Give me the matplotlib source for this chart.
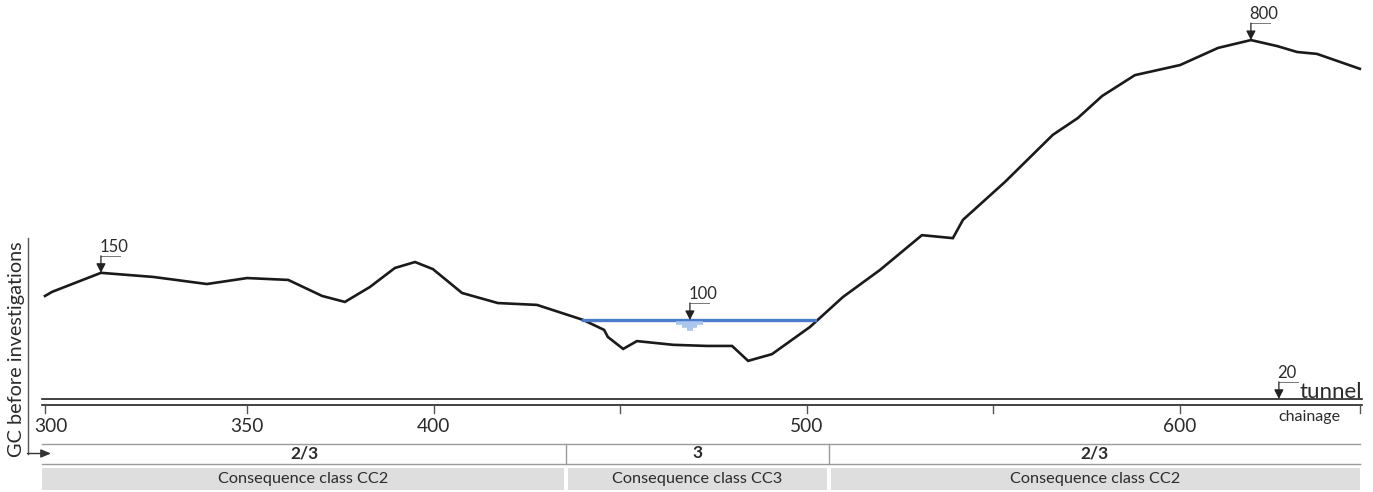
import matplotlib.pyplot as plt
from matplotlib.patches import Rectangle

plt.rcParams['font.family'] = ['Lato', 'DejaVu Sans']

# --- ground surface along the alignment (chainage [m], height above tunnel [m])
chainage = [295.8, 297.7, 310.8, 324.8, 339.2, 350.0, 361.0, 370.1, 376.2, 382.9,
            389.6, 395.0, 399.8, 407.6, 417.2, 427.7, 440.0, 445.7, 446.7, 450.8,
            454.5, 464.2, 473.3, 480.0, 484.3, 490.7, 500.9, 509.7, 519.7, 530.9,
            539.2, 541.9, 553.2, 566.0, 572.7, 579.2, 588.0, 600.1, 610.3, 619.1,
            626.1, 631.5, 636.8, 648.3]
elevation = [29.1, 30.2, 35.3, 34.2, 32.3, 33.9, 33.4, 29.1, 27.5, 31.5,
             36.6, 38.2, 36.3, 29.9, 27.2, 26.7, 22.7, 20.0, 18.1, 14.9,
             17.0, 16.0, 15.7, 15.7, 11.7, 13.5, 20.8, 28.8, 36.1, 45.4,
             44.6, 49.5, 59.7, 72.3, 76.8, 82.7, 88.3, 91.0, 95.6, 97.7,
             96.1, 94.5, 94.0, 90.0]

# --- water level in the valley
water_level = 22.65
water_from, water_to = 440.0, 502.2

# --- level markers
mark_chainage = [310.8, 468.7, 619.1, 626.6]
mark_elev = [35.3, 22.65, 97.7, 1.5]
mark_text = ["150", "100", "800", "20"]

# --- chainage axis
tick_pos = [295.8, 350, 400, 450, 500, 550, 600, 648.3]
tick_labels = ["300", "350", "400", "", "500", "", "600", ""]

# --- geotechnical category / consequence class sections
section_bounds = [295.0, 435.5, 506.0, 648.3]
gc_labels = ["2/3", "3", "2/3"]
cc_labels = ["Consequence class CC2", "Consequence class CC3", "Consequence class CC2"]

SCALE = 3.73       # px per m
Y0 = 404.5         # pixel row of tunnel line


def ey(py):
    """pixel row -> elevation units (layout helper for the bottom bands)"""
    return (Y0 - py) / SCALE


def cx(px):
    return 295.8 + (px - 45) / SCALE


fig = plt.figure(figsize=(13.73, 4.92), dpi=100)
ax = fig.add_axes([0, 0, 1, 1])
ax.set_xlim(cx(0), cx(1373))
ax.set_ylim(ey(492), ey(0))
ax.axis("off")

TXT = "#2b2b2b"
GRID = "#9a9a9a"

# ground line
ax.plot(chainage, elevation, color="#1a1a1a", lw=1.9, solid_joinstyle="miter")

# water
ax.plot([water_from, water_to], [water_level] * 2, color="#4a7cc9", lw=2.4)
wc = mark_chainage[1]
for hw, dy in [(3.6, 0.7), (2.0, 1.5), (0.9, 2.3)]:
    ax.plot([wc - hw, wc + hw], [water_level - dy] * 2, color="#a9c6ec", lw=2.6,
            solid_capstyle="butt")

# tunnel double line
ax.plot([section_bounds[0], section_bounds[-1] + 0.5], [0, 0], color="#222222", lw=1.2)
ax.plot([section_bounds[0], section_bounds[-1] + 0.5], [1.47, 1.47], color="#222222", lw=1.2)
ax.text(cx(1300), ey(398.5), "tunnel", fontsize=16, color=TXT, ha="left", va="baseline")
ax.text(cx(1309), ey(417), "chainage", fontsize=11.5, color=TXT, ha="center", va="center")

# chainage ticks
for p, lab in zip(tick_pos, tick_labels):
    ax.plot([p, p], [ey(406), ey(413)], color="#555555", lw=1.0)
    if lab:
        ax.text(p + (1.7 if p == tick_pos[0] else 0), ey(427), lab, fontsize=13.8,
                color=TXT, ha="center", va="center")

# level markers: arrow + leader + value
for c, e, t in zip(mark_chainage, mark_elev, mark_text):
    top = e + 17 / SCALE
    ax.annotate("", xy=(c, e), xytext=(c, top),
                arrowprops=dict(arrowstyle="-|>,head_length=0.55,head_width=0.28",
                                color="#222222", lw=0.9, shrinkA=0, shrinkB=0))
    ax.plot([c, c + 5.0], [top, top], color="#777777", lw=0.7)
    ax.text(c - 0.4, top + 0.2, t, fontsize=12, color=TXT, ha="left", va="bottom")

# vertical "GC before investigations" axis with arrow
ax.annotate("", xy=(cx(51), ey(453.5)), xytext=(cx(27.5), ey(453.5)),
            arrowprops=dict(arrowstyle="-|>,head_length=0.6,head_width=0.25",
                            color="#333333", lw=1.0, shrinkA=0, shrinkB=0))
ax.plot([cx(27.5), cx(27.5)], [ey(238), ey(453.5)], color="#555555", lw=1.0)
ax.text(cx(17), ey(349), "GC before investigations", rotation=90, fontsize=14.3,
        color=TXT, ha="center", va="center")

# GC row
for yy in (ey(443.5), ey(463.5)):
    ax.plot([section_bounds[0], section_bounds[-1]], [yy, yy], color=GRID, lw=1.0)
for b in section_bounds[1:-1]:
    ax.plot([b, b], [ey(443.5), ey(463.5)], color=GRID, lw=1.0)
for i, lab in enumerate(gc_labels):
    mid = (section_bounds[i] + section_bounds[i + 1]) / 2
    ax.text(mid, ey(453.5), lab, fontsize=12.5, fontweight="bold", color=TXT,
            ha="center", va="center")

# consequence class boxes
gap = 2 / SCALE
for i, lab in enumerate(cc_labels):
    x0 = section_bounds[i] + (gap if i > 0 else 0)
    x1 = section_bounds[i + 1] - (gap if i < len(cc_labels) - 1 else 0)
    ax.add_patch(Rectangle((x0, ey(489.5)), x1 - x0, ey(467.5) - ey(489.5),
                           facecolor="#dedede", edgecolor="none"))
    ax.text((x0 + x1) / 2, ey(478.5), lab, fontsize=11.7, color=TXT,
            ha="center", va="center")

fig.savefig("out.png", dpi=100)
